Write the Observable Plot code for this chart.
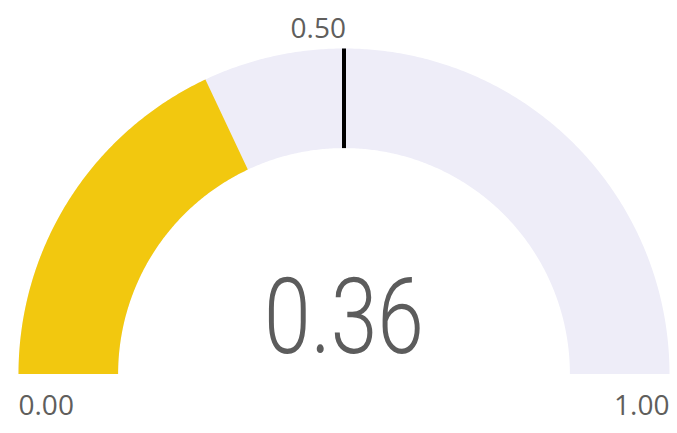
<!DOCTYPE html>
<html><head><meta charset="utf-8">
<script src="https://cdn.jsdelivr.net/npm/d3@7"></script>
<script src="https://cdn.jsdelivr.net/npm/@observablehq/plot@0.6"></script>
<style>html,body{margin:0;padding:0;background:#fff}</style>
</head><body><div id="chart"></div>
<script>
// ---- data ----
const gaugeMin = 0;
const gaugeMax = 1;
const gaugeValue = 0.36;
const gaugeTarget = 0.50;
const tickValues = [0, 0.5, 1];
const tickLabels = ["0.00", "0.50", "1.00"];
const valueLabel = "0.36";

// ---- geometry helpers (unit circle; Plot scales map to pixels) ----
const innerRatio = 0.694;
const toAngle = v => Math.PI * (1 - (v - gaugeMin) / (gaugeMax - gaugeMin));
function band(from, to) {
  const n = Math.max(2, Math.ceil(400 * (to - from)));
  const pts = [];
  for (let i = 0; i <= n; i++) { const a = toAngle(from + (to - from) * i / n); pts.push({x: Math.cos(a), y: Math.sin(a)}); }
  for (let i = n; i >= 0; i--) { const a = toAngle(from + (to - from) * i / n); pts.push({x: innerRatio * Math.cos(a), y: innerRatio * Math.sin(a)}); }
  return pts;
}
const endLabels = [
  {v: tickValues[0], label: tickLabels[0], anchor: "start"},
  {v: tickValues[2], label: tickLabels[2], anchor: "end"}
];
const targetLabel = [{v: tickValues[1], label: tickLabels[1]}];

const chart = Plot.plot({
  width: 677, height: 433,
  marginLeft: 18, marginRight: 8, marginTop: 48, marginBottom: 59.5,
  x: {domain: [-1, 1], axis: null},
  y: {domain: [0, 1], axis: null},
  style: {background: "white", fontFamily: "'Open Sans', sans-serif", color: "#605E5C"},
  marks: [
    Plot.line(band(gaugeMin, gaugeMax), {x: "x", y: "y", fill: "#EEEDF8", stroke: "none", curve: "linear"}),
    Plot.line(band(gaugeMin, gaugeValue), {x: "x", y: "y", fill: "#F2C80F", stroke: "none", curve: "linear"}),
    Plot.link([gaugeTarget], {
      x1: v => innerRatio * Math.cos(toAngle(v)), y1: v => innerRatio * Math.sin(toAngle(v)),
      x2: v => Math.cos(toAngle(v)), y2: v => Math.sin(toAngle(v)),
      stroke: "black", strokeWidth: 4
    }),
    Plot.text(endLabels.filter(d => d.anchor === "start"), {
      x: d => Math.cos(toAngle(d.v)), y: d => Math.sin(toAngle(d.v)), text: "label",
      textAnchor: "start", lineAnchor: "bottom", dy: 41, fontSize: 28, fill: "#605E5C"
    }),
    Plot.text(endLabels.filter(d => d.anchor === "end"), {
      x: d => Math.cos(toAngle(d.v)), y: d => Math.sin(toAngle(d.v)), text: "label",
      textAnchor: "end", lineAnchor: "bottom", dy: 41, fontSize: 28, fill: "#605E5C"
    }),
    Plot.text(targetLabel, {
      x: d => Math.cos(toAngle(d.v)), y: d => Math.sin(toAngle(d.v)), text: "label",
      textAnchor: "end", lineAnchor: "bottom", dy: -11, dx: 2, fontSize: 28, fill: "#605E5C"
    }),
    Plot.text([valueLabel], {
      x: () => 0, y: () => 0, text: d => d,
      textAnchor: "middle", lineAnchor: "bottom", dy: -21, fontSize: 105,
      fontFamily: "Roboto", fontWeight: 300, fill: "#5C5C5C", className: "bignum"
    })
  ]
});
document.getElementById("chart").appendChild(chart);
d3.select(chart).selectAll(".bignum text").attr("transform", function() {
  return (this.getAttribute("transform") || "") + " scale(0.8,1)";
});
</script>
</body></html>
